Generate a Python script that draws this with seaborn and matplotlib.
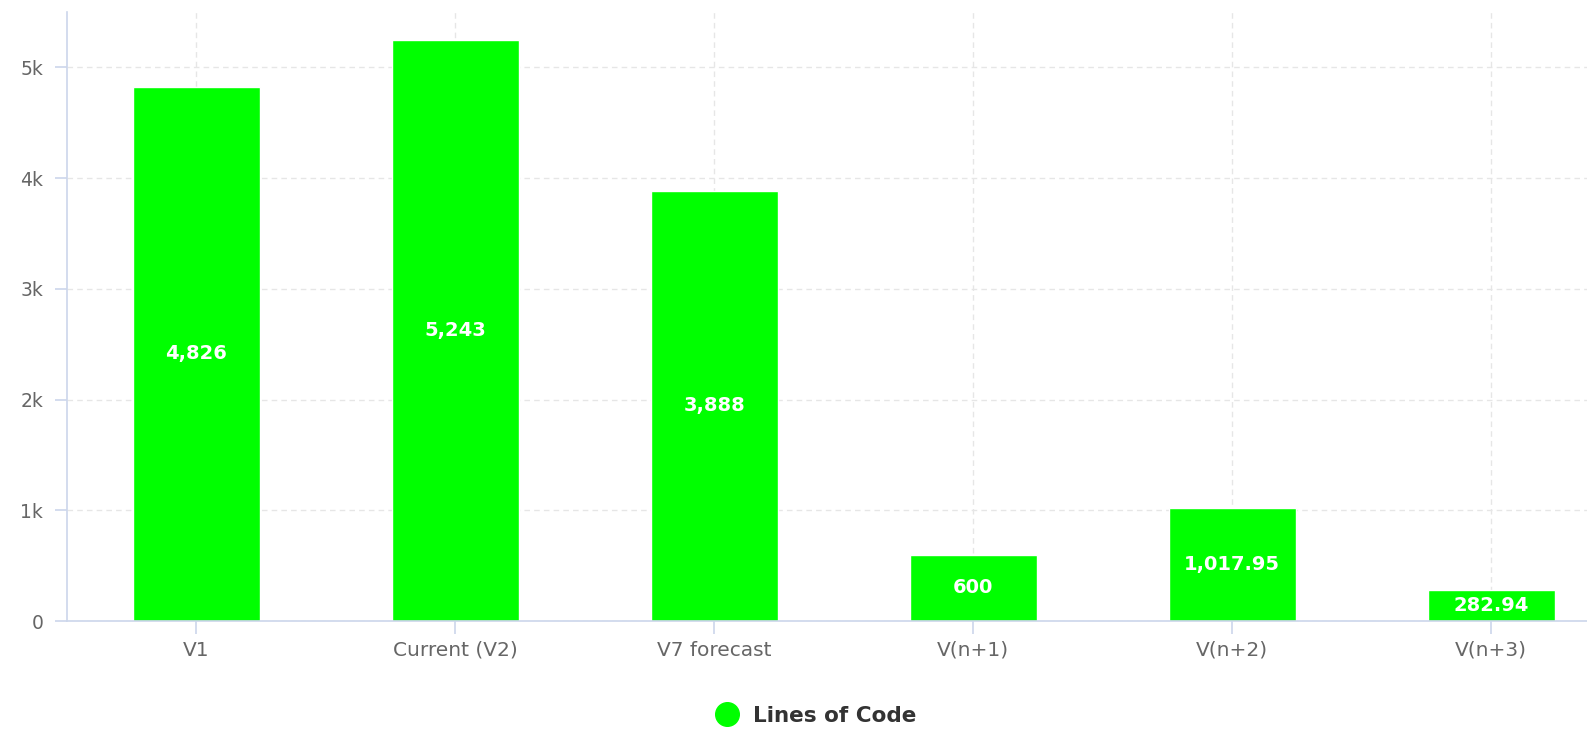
import pandas as pd
import seaborn as sns
import matplotlib.pyplot as plt
from matplotlib.lines import Line2D

# -----------------------------
# Datos
# -----------------------------
versiones = ["V1", "Current (V2)", "V7 forecast", "V(n+1)", "V(n+2)", "V(n+3)"]
lineas_codigo = [4826, 5243, 3888, 600, 1017.95, 282.94]
etiquetas = ["4,826", "5,243", "3,888", "600", "1,017.95", "282.94"]
ticks_y = [0, 1000, 2000, 3000, 4000, 5000]
ticks_y_txt = ["0", "1k", "2k", "3k", "4k", "5k"]

df = pd.DataFrame({"Version": versiones, "LOC": lineas_codigo})

verde = "#00ff00"
eje = "#ccd6eb"
rejilla = "#e6e6e6"
texto = "#666666"

sns.set_style("white")
plt.rcParams["font.family"] = ["DejaVu Sans"]

fig = plt.figure(figsize=(15.87, 7.29), dpi=100)
ax = fig.add_axes([0.0422, 0.148, 0.9578, 0.8355])

sns.barplot(data=df, x="Version", y="LOC", color=verde, saturation=1,
            width=0.49, ax=ax, zorder=3)

# etiquetas dentro de las barras
for i, (v, t) in enumerate(zip(lineas_codigo, etiquetas)):
    ax.text(i, v / 2, t, ha="center", va="center", color="white",
            fontsize=14, fontweight="bold", zorder=4)

ax.set_xlim(-0.5, 5.37)
ax.set_ylim(0, 5500)
ax.set_yticks(ticks_y)
ax.set_yticklabels(ticks_y_txt)
ax.set_xlabel("")
ax.set_ylabel("")

ax.grid(True, axis="both", color=rejilla, linestyle=(0, (4, 3)), linewidth=1, zorder=0)
for s in ["top", "right"]:
    ax.spines[s].set_visible(False)
for s in ["left", "bottom"]:
    ax.spines[s].set_color(eje)
    ax.spines[s].set_linewidth(1.2)
    ax.spines[s].set_zorder(5)

ax.tick_params(axis="both", colors=eje, length=9, width=1.2, direction="out",
               labelcolor=texto, bottom=True, left=True)
ax.tick_params(axis="x", pad=5, labelsize=14.5)
ax.tick_params(axis="y", pad=8, labelsize=13.5)

# leyenda
marca = Line2D([], [], marker="o", linestyle="", markersize=17, color=verde,
               label="Lines of Code")
leg = fig.legend(handles=[marca], loc="center", bbox_to_anchor=(0.511, 0.018),
                 frameon=False, handletextpad=0.2, prop={"weight": "bold", "size": 15.5})
for t in leg.get_texts():
    t.set_color("#333333")

plt.savefig("out.png", dpi=100)
